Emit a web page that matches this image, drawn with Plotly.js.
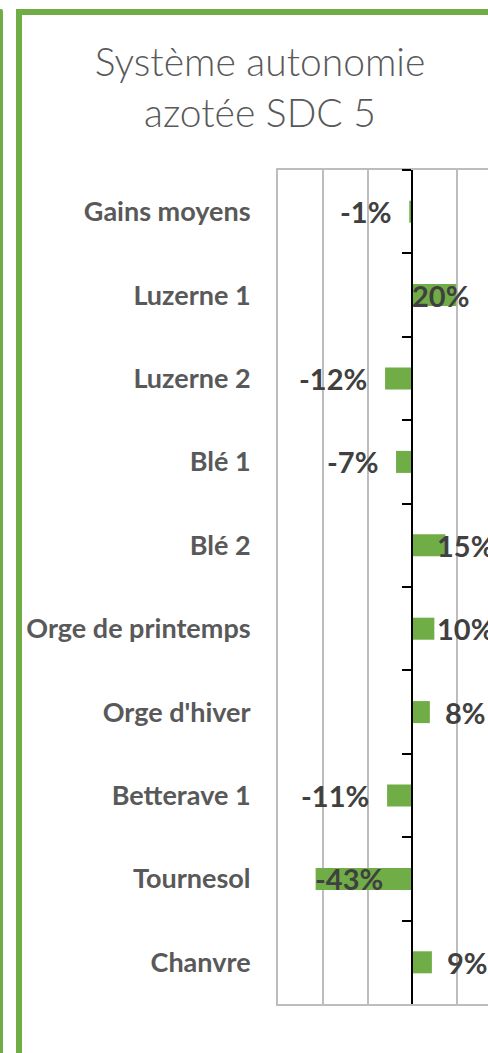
<!DOCTYPE html>
<html>
<head>
<meta charset="utf-8">
<script src="https://cdn.plot.ly/plotly-3.0.1.min.js"></script>
<style>
  html, body { margin:0; padding:0; width:488px; height:1053px; overflow:hidden; background:#ffffff; }
  #chart { position:absolute; left:0; top:0; width:520px; height:1053px; }
  .frame { position:absolute; left:16px; top:9px; width:600px; height:1200px; border:6px solid #70AD47; box-sizing:border-box; pointer-events:none; z-index:5; }
  .neighbor { position:absolute; left:0; top:9px; width:3px; height:1100px; background:#70AD47; border-top-right-radius:2px; pointer-events:none; z-index:5; }
</style>
</head>
<body>
<div class="neighbor"></div>
<div id="chart"></div>
<div class="frame"></div>
<script>
// ---- data ----
const categories = ['Gains moyens', 'Luzerne 1', 'Luzerne 2', 'Blé 1', 'Blé 2',
                    'Orge de printemps', "Orge d'hiver", 'Betterave 1', 'Tournesol', 'Chanvre'];
const values = [-0.014, 0.196, -0.122, -0.073, 0.147, 0.098, 0.078, -0.113, -0.432, 0.087];
const xTickValues = [-0.6, -0.4, -0.2, 0, 0.2, 0.4];

// ---- label placement (style) ----
const labelAnchor = ['right', 'left', 'right', 'right', 'left', 'left', 'left', 'right', 'left', 'left'];
const labelShift  = [-16, -46, -16, -16, -10, 1, 13, -16, -3, 13];

const green = '#70AD47';
const grid = '#bdbdbd';

const bars = {
  type: 'bar', orientation: 'h',
  x: values, y: categories,
  marker: { color: green },
  hoverinfo: 'skip', showlegend: false
};
const axisHelper = {
  type: 'scatter', mode: 'markers',
  x: values, y: categories, yaxis: 'y2',
  marker: { size: 1, opacity: 0 },
  hoverinfo: 'skip', showlegend: false
};

const annotations = categories.map((c, i) => ({
  x: values[i], y: c, xref: 'x', yref: 'y',
  text: '<b>' + Math.round(values[i] * 100) + '%</b>',
  showarrow: false, xanchor: labelAnchor[i], yanchor: 'middle', xshift: labelShift[i],
  font: { family: 'Lato, "DejaVu Sans", sans-serif', size: 29, color: '#404040' }
}));

const layout = {
  width: 520, height: 1053,
  margin: { l: 278, r: 18, t: 170, b: 49 },
  paper_bgcolor: 'rgba(0,0,0,0)', plot_bgcolor: '#ffffff',
  bargap: 0.736,
  title: {
    text: 'Système autonomie<br>azotée SDC 5',
    font: { family: 'Lato, "DejaVu Sans", sans-serif', size: 39, color: '#595959', weight: 300 },
    x: 0.5, xref: 'container', xanchor: 'center',
    y: 1 - 76 / 1053, yref: 'container', yanchor: 'top'
  },
  xaxis: {
    range: [-0.6, 0.4], tickvals: xTickValues, showticklabels: false,
    showgrid: true, gridcolor: grid, gridwidth: 2,
    zeroline: false, showline: true, mirror: true, linecolor: grid, linewidth: 2,
    ticks: '', fixedrange: true
  },
  yaxis: {
    type: 'category', categoryorder: 'array', categoryarray: categories,
    range: [9.5, -0.5], showgrid: false, zeroline: false,
    showline: true, mirror: true, linecolor: grid, linewidth: 2,
    ticks: '', ticklabelstandoff: 20,
    tickfont: { family: 'Lato, "DejaVu Sans", sans-serif', size: 27, color: '#595959', weight: 'bold' },
    fixedrange: true
  },
  yaxis2: {
    type: 'category', categoryorder: 'array', categoryarray: categories,
    range: [9.5, -0.5], overlaying: 'y', anchor: 'free', position: 0.6, side: 'left',
    showgrid: false, zeroline: false, showticklabels: false,
    showline: true, linecolor: '#000000', linewidth: 2,
    ticks: 'outside', tickson: 'boundaries', ticklen: 9, tickwidth: 2, tickcolor: '#000000',
    fixedrange: true
  },
  annotations: annotations
};

Plotly.newPlot('chart', [bars, axisHelper], layout, { staticPlot: true, displayModeBar: false });
</script>
</body>
</html>
